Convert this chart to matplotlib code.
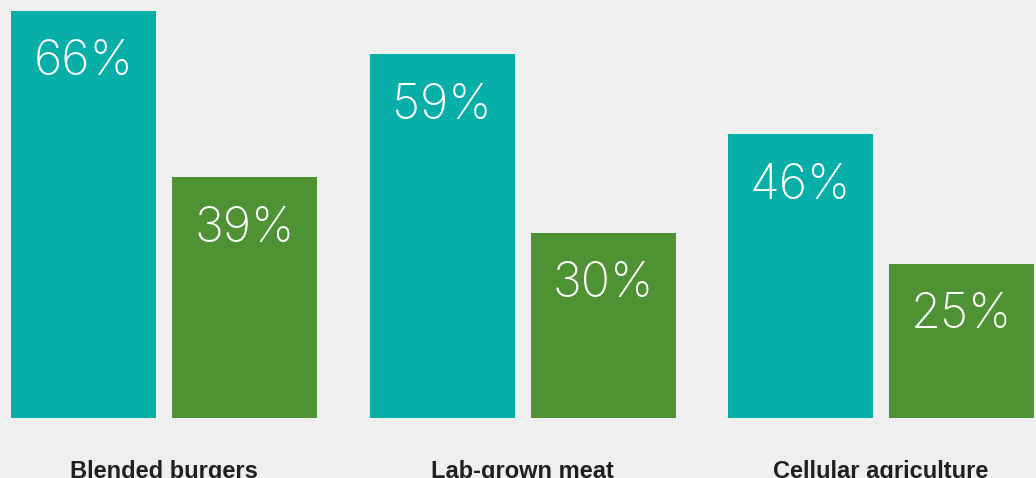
import matplotlib
matplotlib.use("Agg")
import matplotlib.pyplot as plt
import numpy as np

categories = ["Blended burgers", "Lab-grown meat", "Cellular agriculture"]
series_a = [66, 59, 46]
series_b = [39, 30, 25]

TEAL = "#08aea8"
GREEN = "#4f9234"
BG = "#eeefee"

fig = plt.figure(figsize=(10.36, 4.78), dpi=100, facecolor=BG)
ax = fig.add_axes([0, 60 / 478, 1, 418 / 478])
ax.set_facecolor(BG)

step = 358.5
x = np.arange(len(categories))
width = 145 / step
off = 80.5 / step
ax.bar(x - off, series_a, width, color=TEAL)
ax.bar(x + off, series_b, width, color=GREEN)

for xi, a, b in zip(x, series_a, series_b):
    for pos, v in ((xi - off, a), (xi + off, b)):
        ax.text(pos, v - 4.6, f"{v}%", ha="center", va="top", color="white",
                fontsize=35, family=["Inter", "DejaVu Sans"], fontweight=200)

ax.set_xlim(-164 / step, 872 / step)
ax.set_ylim(0, 418 / 6.167)
ax.set_xticks(x)
ax.set_xticklabels(categories, fontsize=17, fontweight="bold",
                   family=["Liberation Sans", "DejaVu Sans"], color="#231f20")
ax.tick_params(axis="x", length=0, pad=30)
ax.set_yticks([])
for s in ax.spines.values():
    s.set_visible(False)

fig.savefig("out.png", dpi=100, facecolor=BG)
